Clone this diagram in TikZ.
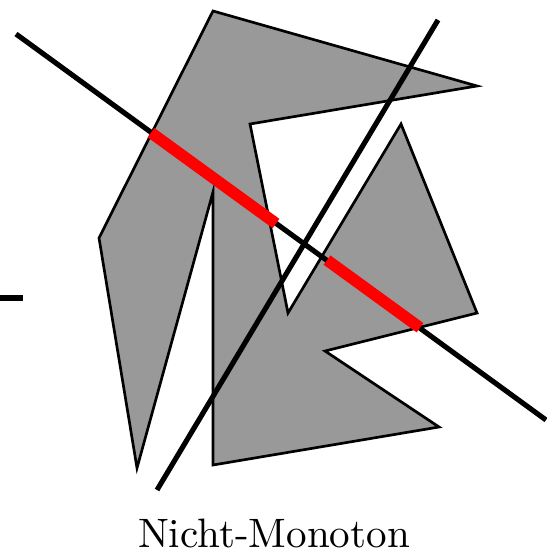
\documentclass[tikz,border=0pt]{standalone}
\usetikzlibrary{calc}

\begin{document}
\begin{tikzpicture}[x=0.2433pt, y=-0.2433pt, every node/.style={font=\normalsize}]
\tikzset{
  poly/.style={draw, fill=black!40, line width=0.65pt, line join=miter},
  cut/.style={line width=1.25pt},
  inside/.style={red, line width=2.8pt}
}
\useasboundingbox (0,0) rectangle (546,553);

% --- the polygon ---
\draw[poly] (213,11) -- (477,86) -- (250,124) -- (288,313) -- (401,124)
  -- (477,313) -- (325,351) -- (439,427) -- (213,465) -- (213,192)
  -- (137,468) -- (99,238) -- cycle;

% --- lines ---
\coordinate (l1a) at (16,34);
\coordinate (l1b) at (546,420);
\coordinate (l2a) at (438,20);
\coordinate (l2b) at (157,490);
\coordinate (s1) at (0,298);
\coordinate (s2) at (23,298);
\draw[cut] (l1a) -- (l1b);
\draw[cut] (l2a) -- (l2b);
\draw[cut] (s1) -- (s2);

% --- parts inside ---
\coordinate (r1a) at (151,132.7);
\coordinate (r1b) at (276,223.5);
\coordinate (r2a) at (327,260.1);
\coordinate (r2b) at (420,327.7);
\draw[inside] (r1a) -- (r1b);
\draw[inside] (r2a) -- (r2b);

\node[anchor=base] (title) at (274,547) {Nicht-Monoton};
\end{tikzpicture}
\end{document}
